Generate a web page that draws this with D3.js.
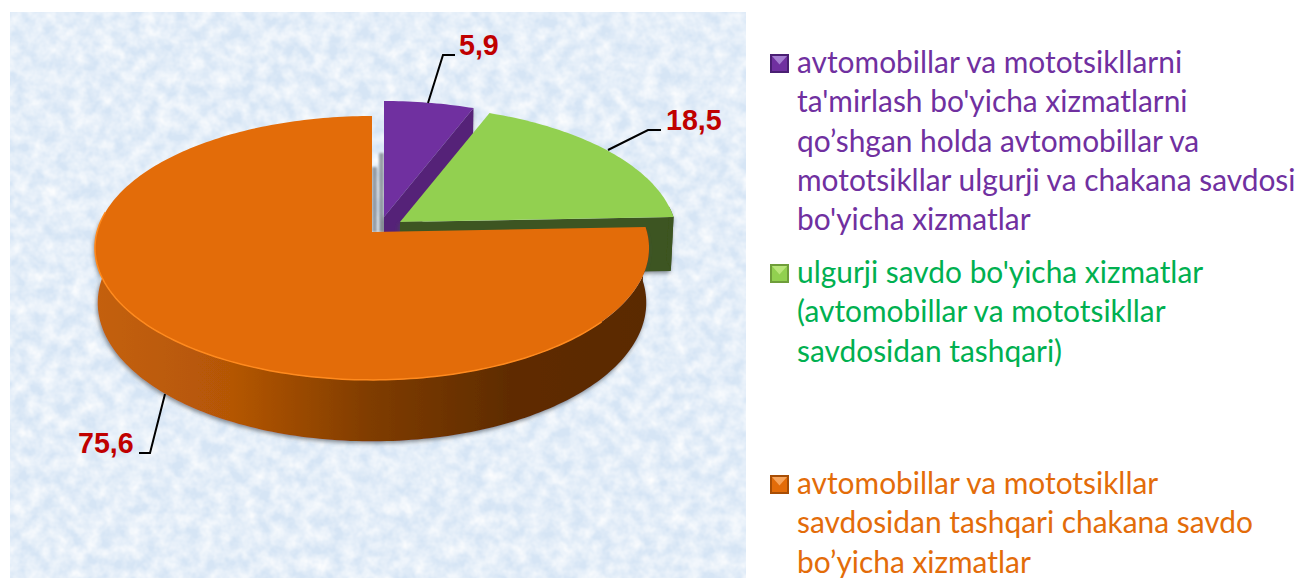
<!DOCTYPE html>
<html>
<head>
<meta charset="utf-8">
<script src="https://cdn.jsdelivr.net/npm/d3@7"></script>
<style>
	html, body { margin: 0; padding: 0; background: #fff; }
	svg { display: block; }
	.valueLabel { font-family: "Liberation Sans", Arial, sans-serif; font-weight: bold; font-size: 28.6px; fill: #c00000; }
	.legendText { font-family: Lato, "Open Sans", sans-serif; font-size: 29.9px; }
</style>
</head>
<body>
<script>
//chart values, clockwise from the top
var categories = ["purple", "green", "orange"];
var seriesValues = [5.9, 18.5, 75.6];
var valueLabels = ["5,9", "18,5", "75,6"];
var legendLines = [
	["avtomobillar va mototsikllarni", "ta'mirlash bo'yicha xizmatlarni", "qo\u2019shgan holda avtomobillar va", "mototsikllar ulgurji va chakana savdosi", "bo'yicha xizmatlar"],
	["ulgurji savdo bo'yicha xizmatlar", "(avtomobillar va mototsikllar", "savdosidan tashqari)"],
	["avtomobillar va mototsikllar", "savdosidan tashqari chakana savdo", "bo\u2019yicha xizmatlar"]
];

//styles for each category
var topColors = { purple: "#7030a0", green: "#92d050", orange: "#e36c09" };
var wallColors = { purple: "#542478", green: "#3c5420", orange: "url(#orangeWall)" };
var textColors = { purple: "#7030a0", green: "#00b050", orange: "#e36c09" };
var swatchLight = { purple: "#a67fd2", green: "#b9e67a", orange: "#f8a55c" };
var swatchDark = { purple: "#4a1f73", green: "#6f9e3a", orange: "#a84e05" };

//layout of the exploded slices: apex of each top face
var apex = { purple: [384, 217], green: [400, 222], orange: [372, 232] };
var leaders = {
	purple: [[428, 103], [443, 55], [455, 55]],
	green: [[608, 150], [648, 130], [661, 130]],
	orange: [[165, 394], [150, 453], [139, 453]]
};
var labelSpots = { purple: [459, 55], green: [666, 130], orange: [78, 453] };
var legendSpots = { purple: 73, green: 283, orange: 494 };
var lineStep = 39.3;

//perspective constants
var radiusX = 275, radiusY = 130, tilt = 0.121, depth = 54, shrink = 0.99;

//begin script
setChart();

function setChart(){
	var svg = d3.select("body")
		.append("svg")
		.attr("width", 1298)
		.attr("height", 578);

	setDefs(svg);

	//textured panel behind the pie
	svg.append("rect")
		.attr("x", 10).attr("y", 12)
		.attr("width", 736).attr("height", 566)
		.attr("fill", "#d6e5f5");
	svg.append("rect")
		.attr("x", 10).attr("y", 12)
		.attr("width", 736).attr("height", 566)
		.attr("filter", "url(#paper)");

	//shadow falling in the gap between orange and purple
	svg.append("path")
		.attr("d", "M372,167H377V232H372Z M379,153H384V232H379Z")
		.attr("fill", "#7d838b")
		.attr("opacity", 0.75)
		.attr("filter", "url(#soft)");

	var pie = d3.pie().sort(null)(seriesValues);

	//purple goes first, green over it, orange over both
	pie.forEach(function(d, i){
		drawSlice(svg, categories[i], d.startAngle, d.endAngle);
	});

	drawLeaders(svg);
	drawLegend(svg);
}

function setDefs(svg){
	var defs = svg.append("defs");

	var grad = defs.append("linearGradient")
		.attr("id", "orangeWall")
		.attr("gradientUnits", "userSpaceOnUse")
		.attr("x1", 94).attr("x2", 648)
		.attr("y1", 0).attr("y2", 0);
	[[0, "#c4600a"], [0.25, "#b45606"], [0.5, "#7f3c03"], [0.75, "#5f2c01"], [1, "#5a2900"]].forEach(function(s){
		grad.append("stop").attr("offset", s[0]).attr("stop-color", s[1]);
	});

	//soft grey shadow for the pie walls
	var shadow = defs.append("filter")
		.attr("id", "pieShadow")
		.attr("x", "-10%").attr("y", "-10%")
		.attr("width", "120%").attr("height", "120%");
	shadow.append("feDropShadow")
		.attr("dx", -1).attr("dy", 2)
		.attr("stdDeviation", 2)
		.attr("flood-color", "#4a4f55")
		.attr("flood-opacity", 0.65);

	defs.append("filter")
		.attr("id", "soft")
		.append("feGaussianBlur")
		.attr("stdDeviation", 1);

	//mottled paper texture
	var paper = defs.append("filter")
		.attr("id", "paper")
		.attr("x", 0).attr("y", 0)
		.attr("width", "100%").attr("height", "100%");
	paper.append("feTurbulence")
		.attr("type", "fractalNoise")
		.attr("baseFrequency", 0.07)
		.attr("numOctaves", 3)
		.attr("seed", 7);
	paper.append("feColorMatrix")
		.attr("type", "matrix")
		.attr("values", "0 0 0 0 1  0 0 0 0 1  0 0 0 0 1  1.4 0 0 0 -0.35");
}

//project a point of the unit circle on to the tilted top face
function project(angle, origin){
	var u = Math.sin(angle),
		v = Math.cos(angle),
		w = 1 + tilt * v;
	return [origin[0] + radiusX * u / w, origin[1] - radiusY * v / w];
}

//same point dropped to the bottom of the wall
function projectBottom(angle, origin){
	var p = project(angle, origin),
		w = 1 + tilt * Math.cos(angle);
	return [origin[0] + (p[0] - origin[0]) * shrink, p[1] + depth / w];
}

function sampleAngles(start, end){
	var n = Math.max(2, Math.ceil((end - start) / 0.02));
	return d3.range(n + 1).map(function(i){
		return start + (end - start) * i / n;
	});
}

function drawSlice(svg, name, start, end){
	var origin = apex[name],
		line = d3.line(),
		angles = sampleAngles(start, end),
		g = svg.append("g").attr("class", "slice " + name);

	var rim = angles.map(function(a){ return project(a, origin); });

	//walls sit in their own group so only they throw the shadow
	var walls = g.append("g").attr("filter", "url(#pieShadow)");

	//cut face at the end of the slice
	var bottomApex = [origin[0], origin[1] + depth];
	walls.append("path")
		.attr("d", line([origin, project(end, origin), projectBottom(end, origin), bottomApex]) + "Z")
		.attr("fill", wallColors[name]);

	//curved outer wall, only the part that faces the viewer
	var frontStart = Math.max(start, Math.PI / 2 - 0.12),
		frontEnd = Math.min(end, 3 * Math.PI / 2 + 0.12);
	if (frontEnd > frontStart){
		var front = sampleAngles(frontStart, frontEnd);
		var wall = front.map(function(a){ return project(a, origin); })
			.concat(front.slice().reverse().map(function(a){ return projectBottom(a, origin); }));
		walls.append("path")
			.attr("d", line(wall) + "Z")
			.attr("fill", wallColors[name]);
	}

	//top face
	g.append("path")
		.attr("d", line([origin].concat(rim)) + "Z")
		.attr("fill", topColors[name]);

	//light catching the front edge of the orange top
	if (name == "orange"){
		g.append("path")
			.attr("d", line(sampleAngles(Math.PI * 0.72, Math.PI * 1.55).map(function(a){ return project(a, origin); })))
			.attr("fill", "none")
			.attr("stroke", "#ff8a1e")
			.attr("stroke-width", 1.5);
	}
}

function drawLeaders(svg){
	categories.forEach(function(name, i){
		svg.append("path")
			.attr("d", d3.line()(leaders[name]))
			.attr("fill", "none")
			.attr("stroke", "#000")
			.attr("stroke-width", 2);
		svg.append("text")
			.attr("class", "valueLabel")
			.attr("x", labelSpots[name][0])
			.attr("y", labelSpots[name][1])
			.text(valueLabels[i]);
	});
}

function drawLegend(svg){
	categories.forEach(function(name, i){
		var base = legendSpots[name],
			x = 770, y = base - 19, s = 19;

		//bevelled square marker
		svg.append("rect")
			.attr("x", x).attr("y", y)
			.attr("width", s).attr("height", s)
			.attr("fill", swatchDark[name]);
		svg.append("rect")
			.attr("x", x + 2).attr("y", y + 2)
			.attr("width", s - 4).attr("height", s - 4)
			.attr("fill", topColors[name]);
		svg.append("path")
			.attr("d", d3.line()([[x + 2, y + 2], [x + s - 2, y + 2], [x + s / 2, y + s / 2 + 1]]) + "Z")
			.attr("fill", swatchLight[name]);

		//wrapped legend text
		legendLines[i].forEach(function(t, j){
			svg.append("text")
				.attr("class", "legendText")
				.attr("x", 797)
				.attr("y", base + j * lineStep)
				.attr("fill", textColors[name])
				.text(t);
		});
	});
}
</script>
</body>
</html>
